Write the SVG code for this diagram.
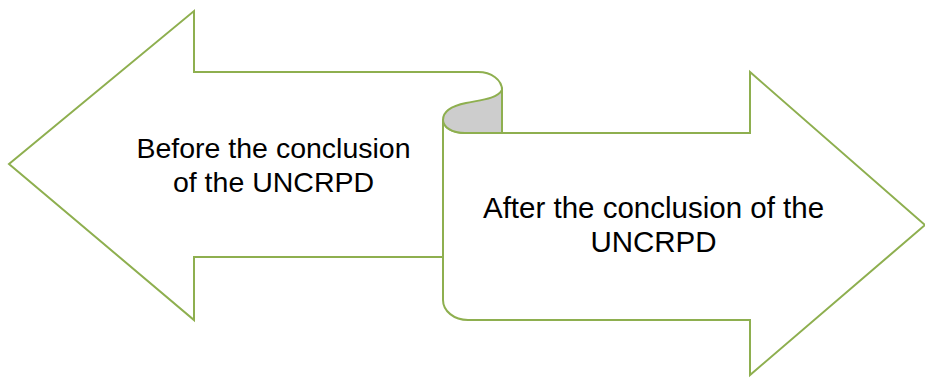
<svg xmlns="http://www.w3.org/2000/svg" width="925" height="379" viewBox="0 0 925 379">
<style>
.ln{fill:none;stroke:#8EAF4F;stroke-width:2;stroke-linejoin:miter}
.bg{fill:#FFFFFF;stroke:none}
.curl{fill:#CDCDCD;stroke:#8EAF4F;stroke-width:2}
.t{font-family:"Liberation Sans",Arial,sans-serif;fill:#000000;text-anchor:middle}
.tl{font-size:28.5px}
.tr{font-size:29.5px}
</style>
<rect width="925" height="379" fill="#FFFFFF"/>
<g id="left-arrow">
<path class="bg" d="M194,11 L9,164 L194,320 L194,257 L443,257 L443,120 L502,90 L502,72 Z"/>
<path class="ln" d="M478,72 L194,72 L194,11 L9,164 L194,320 L194,257 L443,257"/>
<text class="t tl" x="273.5" y="158">Before the conclusion</text>
<text class="t tl" x="273.5" y="192">of the UNCRPD</text>
</g>
<g id="right-arrow">
<path class="bg" d="M443,120 C443,127 452,133 465,133 L750,133 L750,72 L925,225 L750,375 L750,320 L468,320 C454,320 443,311 443,300 Z"/>
<path class="ln" d="M443,120 C443,127 452,133 465,133 L750,133 L750,72 L925,225 L750,375 L750,320 L468,320 C454,320 443,311 443,300 Z"/>
<path class="curl" d="M502,90 C497,99 480,100 466,103 C451,106 443,112 443,120 C443,127 452,133 465,133 L502,133 Z"/>
<path class="ln" d="M478,72 C491.5,72 502,80 502,90 L502,133"/>
<text class="t tr" x="653.5" y="218">After the conclusion of the</text>
<text class="t tr" x="653.5" y="252">UNCRPD</text>
</g>
<g id="connectors"></g>
</svg>
